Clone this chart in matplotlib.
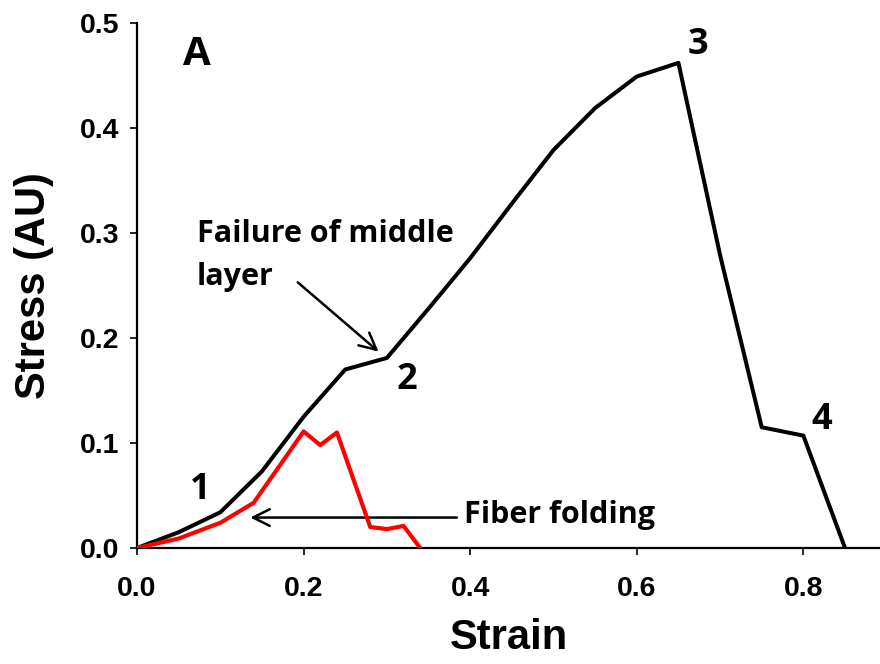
import matplotlib
matplotlib.use("Agg")
import matplotlib.pyplot as plt

#*************** DATA ******************#
strain_black = [0.0, 0.05, 0.10, 0.15, 0.20, 0.25, 0.30, 0.35, 0.40, 0.45, 0.50,
                0.55, 0.60, 0.65, 0.70, 0.75, 0.80, 0.85]
stress_black = [0.0, 0.015, 0.034, 0.073, 0.125, 0.170, 0.181, 0.228, 0.276, 0.328,
                0.379, 0.419, 0.449, 0.462, 0.279, 0.115, 0.107, 0.0]

strain_red = [0.0, 0.05, 0.10, 0.14, 0.20, 0.22, 0.24, 0.28, 0.30, 0.32, 0.34]
stress_red = [0.0, 0.009, 0.024, 0.043, 0.111, 0.098, 0.110, 0.020, 0.018, 0.021, 0.0]

x_ticks = [0.0, 0.2, 0.4, 0.6, 0.8]
y_ticks = [0.0, 0.1, 0.2, 0.3, 0.4, 0.5]

# point labels (text, x, y)
point_labels = [("A", 0.072, 0.470), ("1", 0.076, 0.055), ("2", 0.324, 0.160),
                ("3", 0.673, 0.479), ("4", 0.822, 0.122)]

TICK_FONT = ["Liberation Sans", "DejaVu Sans"]
NOTE_FONT = ["Open Sans", "DejaVu Sans"]

fig = plt.figure(figsize=(8.8, 6.64), dpi=100)
ax = fig.add_axes([0.1557, 0.1747, 0.8443, 0.7907])

ax.plot(strain_black, stress_black, color="black", lw=2.9, zorder=3)
ax.plot(strain_red, stress_red, color="#ff0000", lw=3.0, zorder=4)

ax.set_xlim(0, 0.892)
ax.set_ylim(0, 0.5)
ax.set_xticks(x_ticks)
ax.set_yticks(y_ticks)
ax.set_xticklabels(["%.1f" % v for v in x_ticks], family=TICK_FONT,
                   fontweight="bold", fontsize=20.5)
ax.set_yticklabels(["%.1f" % v for v in y_ticks], family=TICK_FONT,
                   fontweight="bold", fontsize=20.5)
ax.tick_params(direction="out", length=5, width=1.2, pad=8)
ax.tick_params(axis="x", pad=15)

for s in ["top", "right"]:
    ax.spines[s].set_visible(False)
for s in ["left", "bottom"]:
    ax.spines[s].set_linewidth(1.6)

ax.set_xlabel("Strain", family=TICK_FONT, fontweight="bold", fontsize=30, labelpad=12)
ax.set_ylabel("Stress (AU)", family=TICK_FONT, fontweight="bold", fontsize=30, labelpad=18)

for txt, x, y in point_labels:
    size = 29 if txt == "A" else 26
    ax.text(x, y, txt, family=NOTE_FONT, fontweight="bold", fontsize=size,
            ha="center", va="center")

# annotations
ax.text(0.393, 0.024, "Fiber folding", family=NOTE_FONT, fontweight="bold",
        fontsize=22, ha="left", va="baseline")
ax.annotate("", xy=(0.136, 0.029), xytext=(0.384, 0.029),
            arrowprops=dict(arrowstyle="->", color="black", lw=1.8,
                            mutation_scale=30, shrinkA=0, shrinkB=0))
ax.text(0.072, 0.291, "Failure of middle", family=NOTE_FONT, fontweight="bold",
        fontsize=22, ha="left", va="baseline")
ax.text(0.072, 0.250, "layer", family=NOTE_FONT, fontweight="bold",
        fontsize=22, ha="left", va="baseline")
ax.annotate("", xy=(0.290, 0.187), xytext=(0.193, 0.253),
            arrowprops=dict(arrowstyle="->", color="black", lw=1.8,
                            mutation_scale=30, shrinkA=0, shrinkB=0))

fig.savefig("out.png", dpi=100)
